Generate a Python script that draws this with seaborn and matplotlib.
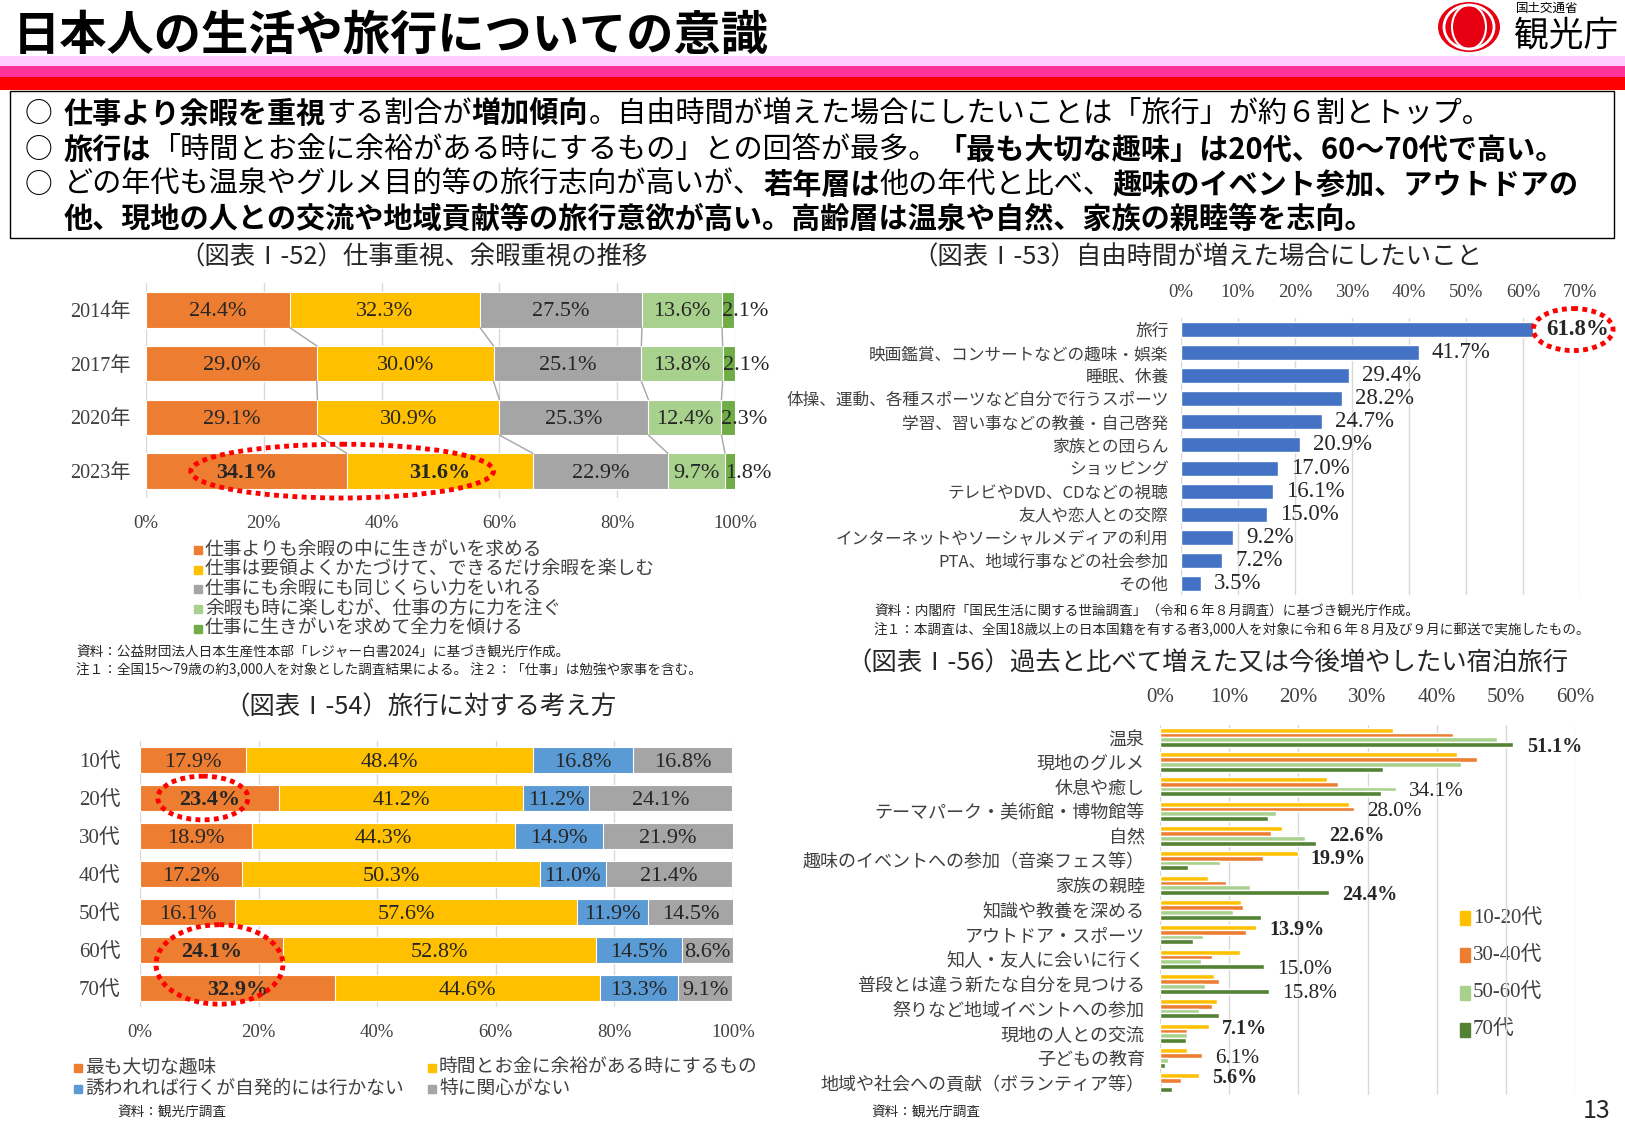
import numpy as np
import pandas as pd
import matplotlib
matplotlib.use('Agg')
import matplotlib.pyplot as plt
import seaborn as sns
from matplotlib.patches import Rectangle, Ellipse

sns.set_style('white')
plt.rcParams['font.family'] = ['Noto Sans CJK JP', 'DejaVu Sans']
SERIF = ['Liberation Serif', 'Noto Sans CJK JP']
TXT = '#404040'

# ---- data: (図表I-52) work vs leisure ----
years = ['2014年', '2017年', '2020年', '2023年']
leisure_first = [24.4, 29.0, 29.1, 34.1]
work_efficient = [32.3, 30.0, 30.9, 31.6]
equal_effort = [27.5, 25.1, 25.3, 22.9]
work_lean = [13.6, 13.8, 12.4, 9.7]
work_first = [2.1, 2.1, 2.3, 1.8]
names52 = ['仕事よりも余暇の中に生きがいを求める',
           '仕事は要領よくかたづけて、できるだけ余暇を楽しむ',
           '仕事にも余暇にも同じくらい力をいれる',
           '余暇も時に楽しむが、仕事の方に力を注ぐ',
           '仕事に生きがいを求めて全力を傾ける']
colors52 = ['#ED7D31', '#FFC000', '#A5A5A5', '#A9D18E', '#70AD47']
bold52 = [(0, 3), (1, 3)]

# ---- data: (図表I-53) free time ----
free_items = ['旅行', '映画鑑賞、コンサートなどの趣味・娯楽', '睡眠、休養',
              '体操、運動、各種スポーツなど自分で行うスポーツ',
              '学習、習い事などの教養・自己啓発', '家族との団らん', 'ショッピング',
              'テレビやDVD、CDなどの視聴', '友人や恋人との交際',
              'インターネットやソーシャルメディアの利用',
              'PTA、地域行事などの社会参加', 'その他']
free_pct = [61.8, 41.7, 29.4, 28.2, 24.7, 20.9, 17.0, 16.1, 15.0, 9.2, 7.2, 3.5]

# ---- data: (図表I-54) attitude to travel ----
ages = ['10代', '20代', '30代', '40代', '50代', '60代', '70代']
hobby = [17.9, 23.4, 18.9, 17.2, 16.1, 24.1, 32.9]
when_free = [48.4, 41.2, 44.3, 50.3, 57.6, 52.8, 44.6]
if_invited = [16.8, 11.2, 14.9, 11.0, 11.9, 14.5, 13.3]
no_interest = [16.8, 24.1, 21.9, 21.4, 14.5, 8.6, 9.1]
names54 = ['最も大切な趣味', '時間とお金に余裕がある時にするもの',
           '誘われれば行くが自発的には行かない', '特に関心がない']
colors54 = ['#ED7D31', '#FFC000', '#5B9BD5', '#A5A5A5']
bold54 = [(0, 1), (0, 5), (0, 6)]

# ---- data: (図表I-56) overnight trips to increase ----
trip_items = ['温泉', '現地のグルメ', '休息や癒し', 'テーマパーク・美術館・博物館等', '自然',
              '趣味のイベントへの参加（音楽フェス等）', '家族の親睦', '知識や教養を深める',
              'アウトドア・スポーツ', '知人・友人に会いに行く', '普段とは違う新たな自分を見つける',
              '祭りなど地域イベントへの参加', '現地の人との交流', '子どもの教育',
              '地域や社会への貢献（ボランティア等）']
age_10_20 = [33.7, 42.9, 24.1, 27.3, 17.7, 19.9, 6.9, 11.7, 13.9, 11.5, 7.8, 8.2, 7.1, 3.9, 5.6]
age_30_40 = [42.4, 45.9, 25.7, 28.0, 16.1, 14.9, 9.6, 12.0, 12.5, 7.5, 8.5, 7.5, 3.9, 6.1, 3.0]
age_50_60 = [48.7, 43.5, 34.1, 16.7, 20.9, 8.7, 13.0, 10.6, 6.2, 5.9, 6.5, 5.6, 3.9, 1.1, 0.3]
age_70 = [51.1, 32.3, 31.9, 15.6, 22.6, 4.0, 24.4, 14.6, 4.8, 15.0, 15.8, 8.6, 3.7, 0.7, 1.8]
age_groups = ['10-20代', '30-40代', '50-60代', '70代']
colors56 = ['#FFC000', '#ED7D31', '#A9D18E', '#548235']
# which bars carry a value label: (item, age group, bold, vertical nudge in pt)
labels56 = [(0, 3, True, -2), (2, 2, False, -2), (3, 1, False, -2), (4, 3, True, 5),
            (5, 0, True, -4), (6, 3, True, -2), (8, 0, True, -2), (9, 3, False, -2),
            (10, 3, False, -2), (12, 0, True, -2), (13, 1, False, -2), (14, 0, True, -2)]

W, H = 1625, 1125
fig = plt.figure(figsize=(W / 100, H / 100), dpi=100)
renderer = fig.canvas.get_renderer()

ov = fig.add_axes([0, 0, 1, 1])
ov.set_xlim(0, W)
ov.set_ylim(H, 0)
ov.axis('off')


def px_axes(x0, y0, x1, y1):
    ax = fig.add_axes([x0 / W, 1 - y1 / H, (x1 - x0) / W, (y1 - y0) / H])
    ax.set_facecolor('none')
    return ax


def clean(ax):
    for s in ax.spines.values():
        s.set_visible(False)
    ax.grid(axis='x', color='#D9D9D9', lw=1)
    ax.set_axisbelow(True)
    ax.set(xlabel='', ylabel='')


def ring(ax, x, y, w, h):
    ax.add_patch(Ellipse((x, y), w, h, fill=False, ec='#FF0000', lw=3.5,
                         ls=(0, (1, 0.9)), clip_on=False, zorder=6))


def legend_rows(x, y, labels, colors, size, dy, sw=8, sh=8):
    for i, (lab, c) in enumerate(zip(labels, colors)):
        yy = y + i * dy
        ov.add_patch(Rectangle((x, yy - sh / 2), sw, sh, color=c))
        ov.text(x + sw + 3, yy, lab, fontsize=size, va='center', color=TXT, family=SERIF)


def rich_line(x, y, parts, size=21):
    for txt, bold in parts:
        t = ov.text(x, y, txt, fontsize=size, va='center', color='black',
                    fontweight='bold' if bold else 'normal')
        x += t.get_window_extent(renderer).width


def stacked(ax, cats, series, colors, bold, last_left=False):
    vals = np.array(series)
    cum = vals.cumsum(axis=0)
    for k in reversed(range(len(series))):
        sns.barplot(x=cum[k], y=cats, color=colors[k], orient='h', width=0.66,
                    saturation=1, errorbar=None, edgecolor='white', linewidth=0.8, ax=ax)
    for k in range(len(series)):
        for i in range(len(cats)):
            v = vals[k][i]
            if last_left and k == len(series) - 1:
                x, ha = cum[k][i] - v, 'left'
            else:
                x, ha = cum[k][i] - v / 2, 'center'
            ax.annotate(f'{v:.1f}%', (x, i), xytext=(0, -1.5), textcoords='offset points',
                        ha=ha, va='center', fontsize=16, family=SERIF, zorder=5,
                        fontweight='bold' if (k, i) in bold else 'normal')
    return cum


# ---- header ----
ov.add_patch(Rectangle((0, 56), W, 10, color='#FFCCFF', lw=0))
ov.add_patch(Rectangle((0, 66), W, 11, color='#FF3399', lw=0))
ov.add_patch(Rectangle((0, 77), W, 13, color='#FF0000', lw=0))
ov.text(13, 36, '日本人の生活や旅行についての意識', fontsize=34, fontweight='bold',
        va='center', color='black', zorder=5)
ov.add_patch(Ellipse((1469, 27), 62, 50, color='#E60012', lw=0))
ov.add_patch(Ellipse((1469, 27), 50, 44, fill=False, ec='white', lw=2))
ov.add_patch(Ellipse((1469, 27), 34, 44, fill=False, ec='white', lw=1.5))
ov.text(1516, 8, '国土交通省', fontsize=9, va='center', color='black')
ov.text(1514, 36, '観光庁', fontsize=25, va='center', color='black')

ov.add_patch(Rectangle((10, 91), 1604, 147, fill=False, ec='black', lw=1))
for yy in [114, 150, 185]:
    ov.text(25, yy, '○', fontsize=20, va='center', color='black')
rich_line(64, 114, [('仕事より余暇を重視', True), ('する割合が', False), ('増加傾向', True),
                    ('。自由時間が増えた場合にしたいことは「旅行」が約６割とトップ。', False)])
rich_line(64, 150, [('旅行は', True), ('「時間とお金に余裕がある時にするもの」との回答が最多。', False),
                    ('「最も大切な趣味」は20代、60～70代で高い。', True)])
rich_line(64, 185, [('どの年代も温泉やグルメ目的等の旅行志向が高いが、', False), ('若年層は', True),
                    ('他の年代と比べ、', False), ('趣味のイベント参加、アウトドアの', True)])
rich_line(64, 219, [('他、現地の人との交流や地域貢献等の旅行意欲が高い。高齢層は温泉や自然、家族の親睦等を志向。', True)])

# ---- (図表I-52) ----
ov.text(414, 258, '（図表Ⅰ-52）仕事重視、余暇重視の推移', fontsize=18.3, ha='center', va='center', color='#262626')
ax1 = px_axes(146, 283, 735, 498)
series52 = [leisure_first, work_efficient, equal_effort, work_lean, work_first]
cum52 = stacked(ax1, years, series52, colors52, bold52, last_left=True)
for k in range(len(series52) - 1):
    for i in range(len(years) - 1):
        ax1.plot([cum52[k][i], cum52[k][i + 1]], [i + 0.33, i + 0.67], color='#A5A5A5', lw=1, zorder=1)
clean(ax1)
ax1.set_xlim(0, 100)
ax1.set_ylim(3.5, -0.5)
ax1.set_xticks(range(0, 101, 20), [f'{t}%' for t in range(0, 101, 20)], fontsize=13.5, family=SERIF, color=TXT)
ax1.set_yticks(range(len(years)), years, fontsize=14.5, family=SERIF, color=TXT)
ax1.tick_params(axis='x', length=0, pad=12)
ax1.tick_params(axis='y', length=0, pad=11)
ring(ax1, 33.3, 3, 51.4, 1.0)
legend_rows(194, 550, names52, colors52, 13.5, 19.7)
ov.text(76, 653, '資料：公益財団法人日本生産性本部「レジャー白書2024」に基づき観光庁作成。', fontsize=9.8, va='center')
ov.text(76, 670, '注１：全国15～79歳の約3,000人を対象とした調査結果による。 注２：「仕事」は勉強や家事を含む。', fontsize=9.8, va='center')

# ---- (図表I-53) ----
ov.text(1197, 258, '（図表Ⅰ-53）自由時間が増えた場合にしたいこと', fontsize=18.3, ha='center', va='center', color='#262626')
ax2 = px_axes(1181, 318, 1580, 595)
sns.barplot(x=free_pct, y=free_items, color='#4472C4', orient='h', width=0.65,
            saturation=1, errorbar=None, ax=ax2)
clean(ax2)
ax2.set_xlim(0, 70)
ax2.set_ylim(11.5, -0.5)
ax2.xaxis.tick_top()
ax2.set_xticks(range(0, 71, 10), [f'{t}%' for t in range(0, 71, 10)], fontsize=13.5, family=SERIF, color=TXT)
ax2.set_yticks(range(len(free_items)), free_items, fontsize=12, color=TXT)
ax2.tick_params(axis='x', length=0, pad=12)
ax2.tick_params(axis='y', length=0, pad=9)
lbl53 = ax2.bar_label(ax2.containers[0], labels=[f'{v:.1f}%' for v in free_pct],
                      padding=9.5, fontsize=16.5, family=SERIF)
lbl53[0].set_fontweight('bold')
ring(ax2, 68.8, 0, 14.0, 1.82)
ov.text(874, 612, '資料：内閣府「国民生活に関する世論調査」（令和６年８月調査）に基づき観光庁作成。', fontsize=9.8, va='center')
ov.text(874, 630, '注１：本調査は、全国18歳以上の日本国籍を有する者3,000人を対象に令和６年８月及び９月に郵送で実施したもの。', fontsize=9.8, va='center')

# ---- (図表I-54) ----
ov.text(420, 708, '（図表Ⅰ-54）旅行に対する考え方', fontsize=18.3, ha='center', va='center', color='#262626')
ax3 = px_axes(140, 741, 733, 1007)
stacked(ax3, ages, [hobby, when_free, if_invited, no_interest], colors54, bold54)
clean(ax3)
ax3.set_xlim(0, 100)
ax3.set_ylim(6.5, -0.5)
ax3.set_xticks(range(0, 101, 20), [f'{t}%' for t in range(0, 101, 20)], fontsize=13.5, family=SERIF, color=TXT)
ax3.set_yticks(range(len(ages)), ages, fontsize=15, family=SERIF, color=TXT)
ax3.tick_params(axis='x', length=0, pad=12)
ax3.tick_params(axis='y', length=0, pad=14)
ring(ax3, 10.6, 1, 15.2, 1.15)
ring(ax3, 13.4, 5.38, 21.4, 2.09)
legend_rows(74, 1068, [names54[0], names54[2]], [colors54[0], colors54[2]], 13.5, 21)
legend_rows(428, 1068, [names54[1], names54[3]], [colors54[1], colors54[3]], 13.5, 21)
ov.text(117, 1113, '資料：観光庁調査', fontsize=9.8, va='center')

# ---- (図表I-56) ----
ov.text(1207, 664, '（図表Ⅰ-56）過去と比べて増えた又は今後増やしたい宿泊旅行', fontsize=18.3, ha='center', va='center', color='#262626')
ax4 = px_axes(1160, 725, 1575, 1095)
df56 = pd.DataFrame({
    'item': trip_items * 4,
    'age': np.repeat(age_groups, len(trip_items)),
    'pct': age_10_20 + age_30_40 + age_50_60 + age_70,
})
sns.barplot(data=df56, x='pct', y='item', hue='age', hue_order=age_groups, palette=colors56,
            orient='h', width=0.78, gap=0, saturation=1, errorbar=None, legend=False, ax=ax4)
clean(ax4)
ax4.set_xlim(0, 60)
ax4.set_ylim(14.5, -0.5)
ax4.xaxis.tick_top()
ax4.set_xticks(range(0, 61, 10), [f'{t}%' for t in range(0, 61, 10)], fontsize=15, family=SERIF, color=TXT)
ax4.set_yticks(range(len(trip_items)), trip_items, fontsize=13, color=TXT)
ax4.tick_params(axis='x', length=0, pad=13)
ax4.tick_params(axis='y', length=0, pad=11)
for item, grp, bold, dy in labels56:
    bar = ax4.containers[grp].patches[item]
    ax4.annotate(f'{bar.get_width():.1f}%', (bar.get_width(), bar.get_y() + bar.get_height() / 2),
                 xytext=(9.5, dy), textcoords='offset points', va='center',
                 fontsize=14.5 if bold else 15.3, family=SERIF,
                 fontweight='bold' if bold else 'normal')
legend_rows(1460, 918, age_groups, colors56, 15, 37.3, sw=10, sh=14)
ov.text(871, 1113, '資料：観光庁調査', fontsize=9.8, va='center')
ov.text(1597, 1111, '13', fontsize=18, ha='center', va='center')

fig.savefig('out.png', dpi=100)
